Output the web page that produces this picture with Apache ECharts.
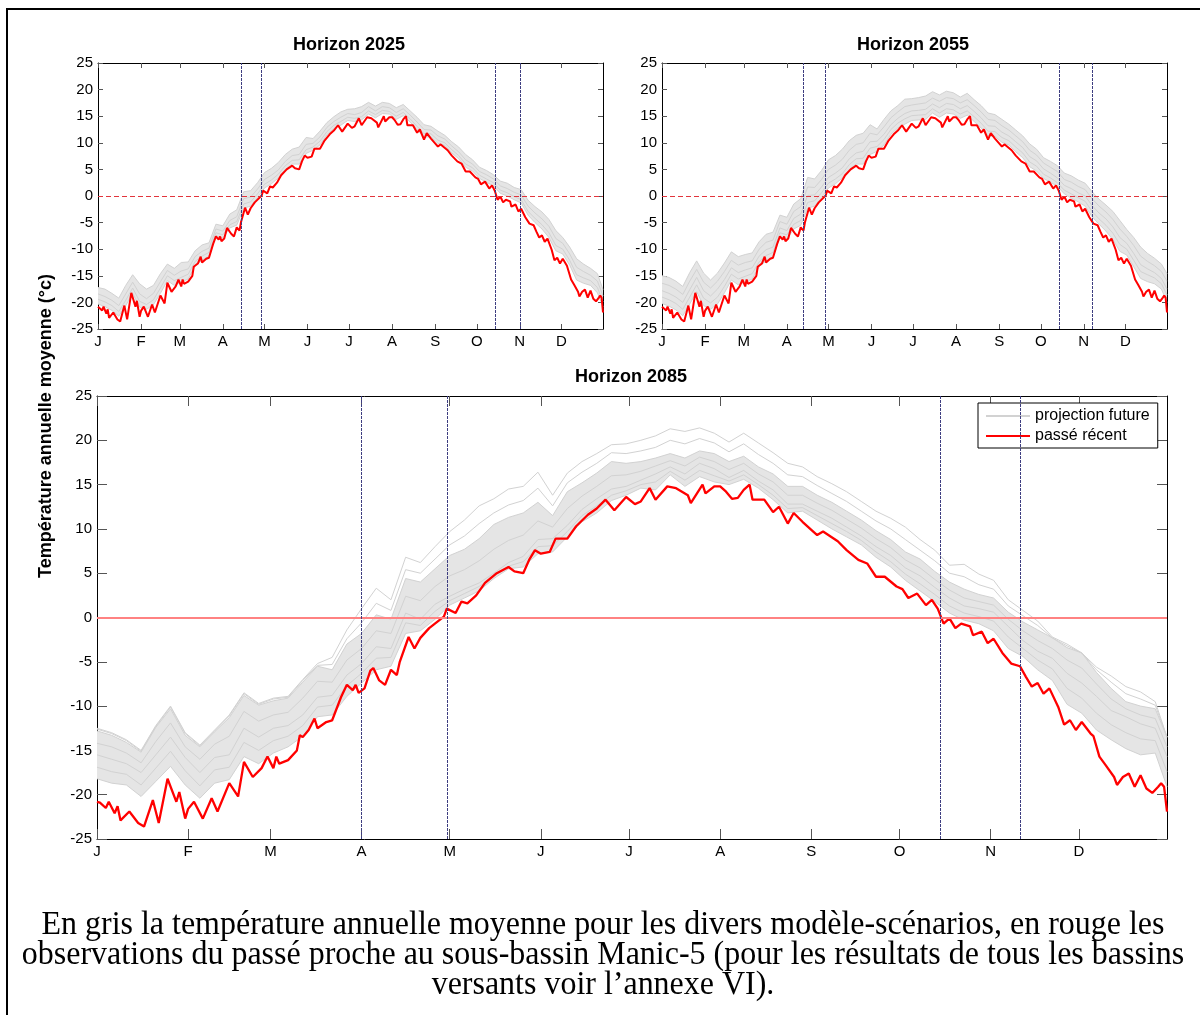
<!DOCTYPE html>
<html>
<head>
<meta charset="utf-8">
<script src="https://cdn.jsdelivr.net/npm/echarts@6/dist/echarts.min.js"></script>
<style>
html,body{margin:0;padding:0;background:#fff;}
#chart{width:1200px;height:1015px;}
</style>
</head>
<body>
<div id="chart"></div>
<script>
// ---------- DATA ----------
const monthTicks = [1, 32, 60, 91, 121, 152, 182, 213, 244, 274, 305, 335];
const monthLabels = ['J', 'F', 'M', 'A', 'M', 'J', 'J', 'A', 'S', 'O', 'N', 'D'];
const panelTitles = ['Horizon 2025', 'Horizon 2055', 'Horizon 2085'];

// observed recent past (red), day of year / temperature
const redDays = [1,2,4,5,7,8,9,12,15,17,20,22,25,28,29,31,32,34,37,40,42,46,49,51,54,57,59,61,62,63,66,69,70,71,73,75,76,79,81,84,86,88,89,90,92,94,95,97,99,101,103,104,107,109,111,114,119,120,123,125,127,130,133,137,141,143,146,148,150,152,155,157,161,164,168,171,174,177,181,184,186,189,191,195,198,202,203,207,208,211,213,215,217,219,221,223,224,228,231,233,236,238,241,244,246,248,253,256,260,263,266,269,273,275,277,280,283,285,287,289,291,293,295,298,299,302,304,306,309,312,315,317,319,321,323,325,328,330,332,334,336,339,340,342,344,347,348,350,352,354,356,358,360,362,363,364,365];
const redTemp = [-20.8,-20.9,-21.5,-20.8,-22.1,-21.3,-22.9,-21.9,-23.2,-23.6,-20.6,-23.2,-18.2,-20.8,-19.7,-22.7,-21.6,-20.8,-22.7,-20.4,-21.9,-18.7,-20.2,-16.3,-18.0,-17.0,-15.7,-17.0,-15.7,-16.5,-16.1,-15.0,-13.3,-13.5,-12.7,-11.4,-12.5,-11.8,-11.6,-9.0,-7.6,-8.2,-7.6,-8.5,-8.0,-6.0,-5.7,-7.1,-7.6,-5.9,-6.5,-5.0,-2.2,-3.5,-2.3,-1.2,0.1,1.0,0.5,1.8,1.6,2.5,3.9,5.0,5.7,5.2,5.0,6.5,7.6,7.2,7.4,8.9,8.9,10.3,11.6,12.3,13.3,12.1,13.6,12.8,13.1,14.6,13.3,14.8,14.6,13.8,12.9,15.0,14.0,14.8,14.8,14.2,13.4,13.5,14.4,15.0,13.3,13.3,11.9,12.5,10.6,11.8,10.8,9.9,9.3,9.7,8.6,7.6,6.5,6.1,4.6,4.6,3.5,3.2,2.2,2.7,1.4,2.0,1.0,-0.7,-0.1,-1.2,-0.7,-1.0,-2.0,-1.6,-2.9,-2.4,-4.0,-5.2,-5.5,-6.7,-7.8,-7.4,-8.6,-8.0,-10.1,-12.1,-11.6,-12.7,-11.8,-13.1,-13.4,-15.7,-16.6,-18.0,-18.9,-18.0,-17.6,-19.1,-17.8,-19.3,-19.8,-19.1,-18.7,-19.1,-21.9];

// future projections (grey), sampled days
const grayDays = [1,6,11,16,21,26,31,36,41,46,51,56,61,66,71,76,81,86,91,96,101,106,111,116,121,126,131,136,141,146,151,156,161,166,171,176,181,186,191,196,201,206,211,216,221,226,231,236,241,246,251,256,261,266,271,276,281,286,291,296,301,306,311,316,321,326,331,336,341,346,351,356,361,365];

const gray2025Top = [-17.2,-17.5,-18.3,-19.2,-16.8,-14.8,-16.5,-17.5,-16.8,-14.6,-12.8,-13.6,-12.5,-12.4,-10.3,-9.2,-8.8,-5.3,-5.6,-3.4,-2.6,0.8,1.0,2.5,4.4,5.2,6.3,7.8,8.8,9.2,11.0,10.8,12.2,13.8,14.9,15.8,16.3,16.4,16.8,17.6,16.9,17.6,17.4,16.6,17.2,16.0,14.8,13.4,13.1,12.2,11.4,10.2,9.2,7.8,6.8,5.4,4.8,4.0,2.8,2.4,1.6,1.2,-0.8,-2.0,-3.0,-4.4,-6.5,-7.8,-9.6,-11.8,-12.8,-13.6,-14.6,-17.6];
const gray2025B = [-18.4,-18.9,-19.6,-20.6,-18.4,-16.2,-18.4,-19.3,-18.3,-16.1,-14.0,-14.9,-14.1,-13.7,-11.4,-10.4,-9.8,-6.2,-6.6,-4.6,-3.9,-0.5,-0.2,1.3,3.1,3.9,4.9,6.5,7.6,7.8,9.7,9.9,11.1,12.9,14.0,14.8,15.5,15.3,15.7,16.8,16.0,16.8,16.6,15.7,16.4,15.2,13.9,12.5,12.4,11.3,10.7,9.4,8.3,6.8,6.0,4.6,4.0,3.2,1.9,1.4,0.7,0.2,-1.9,-3.2,-4.3,-5.7,-8.0,-8.9,-10.9,-13.4,-14.2,-14.9,-16.0,-18.8];
const gray2025C = [-19.4,-19.9,-20.6,-21.7,-19.6,-17.3,-19.8,-20.4,-19.5,-17.3,-15.0,-15.9,-15.3,-14.7,-12.3,-11.3,-10.6,-6.9,-7.3,-5.4,-4.8,-1.5,-1.1,0.4,2.2,3.0,4.1,5.7,6.7,6.8,8.7,9.2,10.3,12.1,13.3,14.0,14.8,14.6,14.9,16.0,15.3,16.1,15.9,15.0,15.7,14.5,13.1,11.7,11.7,10.5,10.0,8.7,7.6,6.0,5.3,3.9,3.2,2.5,1.1,0.6,-0.1,-0.7,-2.9,-4.2,-5.4,-6.9,-9.3,-10.0,-12.1,-14.8,-15.4,-15.9,-17.2,-19.9];
const gray2025Low = [-20.3,-20.8,-21.5,-22.6,-20.6,-18.3,-20.9,-21.3,-20.4,-18.3,-15.9,-16.8,-16.2,-15.6,-13.1,-12.1,-11.3,-7.5,-7.9,-6.0,-5.5,-2.3,-1.9,-0.3,1.5,2.3,3.4,5.0,6.0,6.0,8.0,8.6,9.6,11.5,12.7,13.3,14.2,14.0,14.3,15.4,14.7,15.5,15.4,14.4,15.1,13.9,12.5,11.1,11.1,9.9,9.5,8.1,7.0,5.4,4.7,3.3,2.6,1.9,0.5,0.0,-0.7,-1.3,-3.6,-5.0,-6.2,-7.8,-10.3,-10.9,-13.0,-15.8,-16.4,-16.8,-18.2,-20.8];

const gray2055Top = [-15.0,-15.3,-16.0,-17.0,-14.4,-12.2,-14.5,-15.8,-14.5,-12.6,-10.5,-11.4,-11.0,-10.7,-8.6,-7.2,-6.8,-3.6,-4.0,-1.5,-0.5,3.5,3.2,4.8,6.8,7.6,8.8,10.4,11.4,11.8,13.4,12.6,14.4,16.0,17.0,18.2,18.3,18.5,18.8,19.6,19.0,19.7,19.4,18.6,19.3,18.1,17.0,15.6,15.3,14.4,13.5,12.4,11.3,9.8,8.8,7.2,6.5,5.7,4.3,3.8,3.0,2.4,0.8,-0.6,-1.7,-2.9,-4.6,-6.3,-7.8,-9.6,-10.8,-11.7,-12.8,-14.6];
const gray2055B = [-16.4,-16.8,-17.5,-18.5,-16.0,-13.8,-16.2,-17.3,-16.0,-14.2,-12.1,-13.0,-12.5,-12.2,-10.0,-8.7,-8.3,-4.8,-5.3,-2.9,-2.0,1.7,1.6,3.1,5.0,5.8,6.9,8.6,9.7,10.0,11.8,11.5,13.0,14.7,15.8,16.8,17.1,17.3,17.5,18.4,17.8,18.5,18.3,17.5,18.1,17.0,15.8,14.4,14.2,13.2,12.4,11.3,10.2,8.6,7.7,6.2,5.4,4.6,3.1,2.6,1.8,1.2,-0.5,-1.9,-3.0,-4.4,-6.2,-7.6,-9.3,-11.3,-12.3,-13.1,-14.2,-16.0];
const gray2055C = [-17.8,-18.3,-19.0,-20.0,-17.6,-15.3,-17.8,-18.8,-17.5,-15.7,-13.5,-14.4,-13.9,-13.5,-11.3,-10.1,-9.6,-6.0,-6.5,-4.2,-3.4,0.1,0.2,1.7,3.5,4.3,5.3,7.0,8.1,8.4,10.2,10.3,11.6,13.4,14.6,15.5,16.0,16.1,16.3,17.3,16.6,17.4,17.2,16.4,17.0,15.9,14.7,13.2,13.1,12.0,11.3,10.2,9.1,7.4,6.6,5.1,4.3,3.4,2.0,1.4,0.6,0.0,-1.8,-3.2,-4.3,-5.8,-7.8,-8.9,-10.8,-12.9,-13.7,-14.4,-15.5,-17.5];
const gray2055D = [-19.0,-19.5,-20.2,-21.3,-19.0,-16.7,-19.2,-20.1,-19.0,-17.0,-14.7,-15.6,-15.1,-14.6,-12.4,-11.2,-10.6,-6.9,-7.3,-5.3,-4.6,-1.2,-0.9,0.6,2.4,3.2,4.2,5.9,7.0,7.1,9.0,9.3,10.6,12.5,13.7,14.5,15.1,15.2,15.3,16.4,15.6,16.4,16.2,15.4,16.0,14.9,13.7,12.2,12.1,11.0,10.4,9.2,8.1,6.4,5.6,4.1,3.4,2.5,1.1,0.4,-0.3,-1.0,-2.9,-4.3,-5.5,-7.0,-9.1,-10.0,-12.1,-14.2,-14.8,-15.4,-16.5,-18.6];
const gray2055Low = [-20.2,-20.7,-21.4,-22.5,-20.3,-18.0,-20.6,-21.3,-20.3,-18.2,-15.8,-16.7,-16.2,-15.6,-13.3,-12.2,-11.5,-7.7,-8.1,-6.2,-5.5,-2.3,-1.9,-0.3,1.5,2.3,3.4,5.0,6.0,6.0,7.8,8.4,9.6,11.6,12.8,13.5,14.2,14.3,14.4,15.6,14.8,15.6,15.4,14.6,15.2,14.0,12.8,11.3,11.2,10.1,9.6,8.3,7.2,5.5,4.7,3.3,2.6,1.8,0.4,-0.4,-1.1,-1.9,-3.9,-5.3,-6.6,-8.2,-10.4,-11.1,-13.3,-15.5,-16.1,-16.5,-17.5,-20.0];

const gray2085Top = [-12.5,-13.0,-13.8,-15.0,-12.2,-10.0,-13.0,-14.4,-12.7,-11.0,-8.5,-9.7,-9.1,-8.9,-7.0,-5.2,-4.5,-1.4,1.0,3.3,2.0,6.8,6.2,8.0,9.7,11.0,12.6,13.4,14.5,14.8,16.4,13.8,16.3,17.6,18.5,19.5,19.6,20.0,20.5,21.3,21.0,21.4,20.8,19.8,20.8,19.7,18.6,17.4,17.0,15.9,15.1,14.2,13.1,12.0,11.2,10.2,8.8,7.6,5.9,6.0,4.9,4.2,2.0,0.8,-0.4,-2.2,-3.0,-4.0,-5.6,-6.6,-7.8,-8.4,-9.5,-13.5];
const gray2085Upper = [-12.6,-13.1,-13.9,-15.1,-12.3,-10.1,-13.1,-14.5,-12.8,-11.1,-8.6,-9.8,-9.2,-9.0,-7.1,-5.4,-5.3,-2.4,-0.6,1.6,0.8,5.4,5.0,6.6,8.2,9.2,10.6,11.8,12.7,13.2,14.6,12.6,15.2,16.4,17.4,18.6,18.5,18.8,19.2,20.0,19.6,20.2,19.7,18.7,19.6,18.4,17.4,16.1,15.9,14.9,14.0,13.1,12.0,10.9,10.0,8.8,7.6,6.4,5.0,4.6,3.7,3.2,1.3,0.2,-0.9,-2.3,-3.2,-4.0,-5.9,-7.3,-8.6,-9.2,-9.9,-13.5];
const gray2085High = [-12.8,-13.3,-14.1,-15.2,-12.4,-10.3,-13.3,-14.6,-12.9,-11.3,-8.8,-9.9,-9.4,-9.1,-7.3,-5.5,-5.9,-3.0,-1.8,0.3,-0.2,4.4,4.0,5.5,7.0,7.7,8.9,10.5,11.3,11.8,13.0,11.5,14.2,15.2,16.3,17.6,17.4,17.6,18.0,18.5,18.0,18.8,18.5,17.6,18.2,17.0,16.2,14.8,14.8,13.8,13.0,12.0,11.0,9.8,8.8,7.4,6.6,5.2,4.0,3.2,2.6,2.2,0.6,-0.5,-1.4,-2.3,-3.4,-4.0,-6.2,-8.0,-9.5,-10.0,-10.3,-13.5];
const gray2085MidHigh = [-14.2,-14.6,-15.3,-16.4,-14.0,-11.9,-14.6,-16.0,-14.3,-13.4,-10.6,-11.7,-11.0,-10.7,-9.1,-7.2,-7.3,-4.8,-3.5,-1.5,-1.8,2.4,1.9,3.5,4.7,5.4,6.4,7.7,8.7,9.3,10.9,10.2,12.3,13.7,14.8,16.0,16.1,16.5,17.1,17.7,17.1,18.1,17.6,16.7,17.4,16.2,15.3,13.8,13.8,12.9,12.1,11.1,10.1,8.9,7.9,6.5,5.6,4.3,3.1,2.2,1.8,1.4,-0.2,-1.5,-2.6,-3.5,-4.8,-5.7,-7.5,-9.2,-10.3,-11.0,-11.4,-14.6];
const gray2085Mid = [-15.5,-16.0,-16.5,-17.5,-15.5,-13.5,-15.8,-17.5,-15.8,-15.5,-12.5,-13.5,-12.5,-12.2,-11.0,-9.0,-8.8,-6.5,-5.2,-3.3,-3.5,0.5,-0.2,1.5,2.4,3.2,3.9,5.0,6.2,6.9,8.8,8.9,10.4,12.2,13.4,14.5,14.8,15.5,16.2,17.0,16.2,17.4,16.8,15.8,16.6,15.4,14.4,12.8,12.8,12.0,11.2,10.2,9.2,8.0,7.0,5.6,4.7,3.4,2.2,1.3,1.0,0.6,-1.0,-2.6,-3.8,-4.6,-6.3,-7.4,-8.9,-10.5,-11.2,-12.0,-12.5,-15.7];
const gray2085MidLow = [-16.9,-17.4,-17.7,-18.9,-17.0,-15.1,-17.3,-19.0,-17.2,-16.9,-14.1,-15.0,-13.9,-13.4,-12.2,-10.1,-9.9,-7.7,-6.3,-4.6,-4.5,-0.6,-0.9,0.7,1.9,2.7,3.5,4.7,5.8,6.3,8.0,8.1,9.7,11.5,12.6,13.8,14.3,15.0,15.3,16.5,15.5,16.6,16.0,15.4,16.1,15.0,13.8,12.3,12.4,11.5,10.6,9.7,8.7,7.4,6.3,4.9,3.8,2.6,1.3,0.5,0.1,-0.4,-2.2,-3.5,-4.8,-5.8,-8.0,-9.1,-10.8,-12.1,-13.0,-13.7,-13.9,-17.4];
const gray2085Low = [-18.2,-18.7,-18.9,-20.2,-18.5,-16.8,-18.9,-20.4,-18.7,-18.3,-15.7,-16.5,-15.3,-14.6,-13.4,-11.2,-11.0,-8.9,-7.4,-5.9,-5.5,-1.8,-1.5,-0.2,1.4,2.2,3.0,4.4,5.5,5.7,7.2,7.4,9.1,10.8,11.8,13.2,13.8,14.6,14.4,16.1,14.8,15.9,15.3,15.0,15.6,14.6,13.3,11.8,12.0,11.0,10.0,9.1,8.2,6.8,5.7,4.2,3.0,1.8,0.5,-0.3,-0.7,-1.5,-3.5,-4.4,-5.9,-7.1,-9.8,-10.8,-12.7,-13.8,-14.8,-15.5,-15.3,-19.1];

const grayByPanel = [
  [gray2025Top, gray2025B, gray2025C, gray2025Low],
  [gray2055Top, gray2055B, gray2055C, gray2055D, gray2055Low],
  [gray2085Top, gray2085Upper, gray2085High, gray2085MidHigh, gray2085Mid, gray2085MidLow, gray2085Low]
];
// dense core of the grey bundle (upper / lower edges) per panel
const bandEdges = [
  [gray2025Top, gray2025Low],
  [gray2055Top, gray2055Low],
  [gray2085High, gray2085Low]
];

// day-of-year of the vertical threshold lines in each panel
const markerDays = [
  [104, 119, 287, 305],
  [103, 119, 287, 311],
  [91, 120, 288, 315]
];

const captionLines = [
  'En gris la température annuelle moyenne pour les divers modèle-scénarios, en rouge les',
  'observations du passé proche au sous-bassin Manic-5 (pour les résultats de tous les bassins',
  'versants voir l\u2019annexe VI).'
];
const yAxisTitle = 'Température annuelle moyenne (°c)';
const legendNames = ['projection future', 'passé récent'];

// ---------- LAYOUT / STYLE ----------
const SANS = '"Liberation Sans", Arial, Helvetica, sans-serif';
const SERIF = '"Liberation Serif", "Times New Roman", serif';
const grids = [
  {left: 98, top: 63, width: 505, height: 266},
  {left: 662, top: 63, width: 505, height: 266},
  {left: 97, top: 396, width: 1070, height: 443}
];
const tickLen = [5, 5, 10];
const GRAY = '#d2d2d2';
const BAND = '#e5e5e5';
const RED = '#ff0000';

const xAxes = [], yAxes = [], series = [];
const monthFmt = v => { const i = monthTicks.indexOf(v); return i >= 0 ? monthLabels[i] : ''; };

for (let g = 0; g < 3; g++) {
  ['bottom', 'top'].forEach(pos => {
    xAxes.push({
      type: 'value', gridIndex: g, min: 1, max: 365, position: pos,
      axisLine: {show: true, onZero: false, lineStyle: {color: '#000', width: 1}},
      axisTick: {show: true, inside: true, length: tickLen[g], customValues: monthTicks, lineStyle: {color: '#555', width: 1}},
      axisLabel: {show: pos === 'bottom', customValues: monthTicks, formatter: monthFmt, margin: 5,
        fontSize: 15, color: '#000', fontFamily: SANS, showMinLabel: true, showMaxLabel: true},
      splitLine: {show: false}
    });
  });
  ['left', 'right'].forEach(pos => {
    yAxes.push({
      type: 'value', gridIndex: g, min: -25, max: 25, interval: 5, position: pos,
      axisLine: {show: true, onZero: false, lineStyle: {color: '#000', width: 1}},
      axisTick: {show: true, inside: true, length: tickLen[g], lineStyle: {color: '#555', width: 1}},
      axisLabel: {show: pos === 'left', margin: 5, fontSize: 15, color: '#000', fontFamily: SANS,
        showMinLabel: true, showMaxLabel: true},
      splitLine: {show: false}
    });
  });
}

for (let g = 0; g < 3; g++) {
  const xi = g * 2, yi = g * 2;
  const upper = bandEdges[g][0], lower = bandEdges[g][1];
  // light fill for the dense bundle of projection curves, drawn through the axes' scales
  series.push({
    type: 'custom', name: 'band-' + g, xAxisIndex: xi, yAxisIndex: yi,
    data: [[grayDays[0], lower[0]]], silent: true, animation: false, z: 1,
    renderItem: function (params, api) {
      const pts = [];
      for (let i = 0; i < grayDays.length; i++) pts.push(api.coord([grayDays[i], upper[i]]));
      for (let i = grayDays.length - 1; i >= 0; i--) pts.push(api.coord([grayDays[i], lower[i]]));
      return {type: 'polygon', shape: {points: pts}, style: {fill: BAND, stroke: null}, silent: true};
    }
  });
  grayByPanel[g].forEach(vals => {
    series.push({
      type: 'line', name: legendNames[0], xAxisIndex: xi, yAxisIndex: yi,
      data: grayDays.map((d, i) => [d, vals[i]]),
      showSymbol: false, symbol: 'none', silent: true, animation: false, z: 2,
      lineStyle: {color: GRAY, width: 1}, itemStyle: {color: GRAY}
    });
  });
  const zeroLine = g < 2
    ? {yAxis: 0, lineStyle: {color: '#e2343c', type: [5, 3], width: 1}}
    : {yAxis: 0, lineStyle: {color: '#ff8282', type: 'solid', width: 2}};
  const vLines = markerDays[g].map(d => ({xAxis: d, lineStyle: {color: '#3d3d80', type: [3, 1], width: 1}}));
  series.push({
    type: 'line', name: legendNames[1], xAxisIndex: xi, yAxisIndex: yi,
    data: redDays.map((d, i) => [d, redTemp[i]]),
    showSymbol: false, symbol: 'none', silent: true, animation: false, z: 3,
    lineStyle: {color: RED, width: g < 2 ? 2 : 2.3}, itemStyle: {color: RED},
    markLine: {symbol: ['none', 'none'], silent: true, animation: false, label: {show: false},
      emphasis: {disabled: true}, data: [zeroLine].concat(vLines)}
  });
}

// caption: tall serif, condensed horizontally so that line 1 spans its original width
const CAP_SIZE = 33;
const mctx = document.createElement('canvas').getContext('2d');
mctx.font = CAP_SIZE + 'px ' + SERIF;
const capScale = 1123 / mctx.measureText(captionLines[0]).width;

const graphics = [
  {type: 'rect', shape: {x: 7, y: 9, width: 1300, height: 1200}, style: {fill: 'none', stroke: '#000', lineWidth: 2}, silent: true, z: 10}
];
const titlePos = [[349, 45], [913, 45], [631, 377]];
panelTitles.forEach((t, i) => graphics.push({
  type: 'text', x: titlePos[i][0], y: titlePos[i][1], silent: true,
  style: {text: t, font: 'bold 18px ' + SANS, fill: '#000', align: 'center', verticalAlign: 'middle', textAlign: 'center', textVerticalAlign: 'middle'}
}));
graphics.push({
  type: 'text', x: 46, y: 426, rotation: Math.PI / 2, silent: true,
  style: {text: yAxisTitle, font: 'bold 18px ' + SANS, fill: '#000', align: 'center', verticalAlign: 'middle', textAlign: 'center', textVerticalAlign: 'middle'}
});
const capY = [925, 955, 985];
captionLines.forEach((t, i) => graphics.push({
  type: 'text', x: 603, y: capY[i], scaleX: capScale, scaleY: 1, silent: true,
  style: {text: t, font: CAP_SIZE + 'px ' + SERIF, fill: '#000', align: 'center', verticalAlign: 'middle', textAlign: 'center', textVerticalAlign: 'middle'}
}));

const chart = echarts.init(document.getElementById('chart'), null, {renderer: 'canvas'});
chart.setOption({
  animation: false,
  backgroundColor: '#fff',
  grid: grids,
  xAxis: xAxes,
  yAxis: yAxes,
  legend: {
    show: true, left: 978, top: 403, orient: 'vertical', selectedMode: false,
    data: legendNames.map(n => ({name: n})), icon: 'rect', itemWidth: 44, itemHeight: 2, itemGap: 4,
    padding: [5, 8, 4, 8], borderColor: '#000', borderWidth: 1, backgroundColor: '#fff',
    textStyle: {fontSize: 16, fontFamily: SANS, color: '#000'}
  },
  series: series,
  graphic: graphics
});
</script>
</body>
</html>
